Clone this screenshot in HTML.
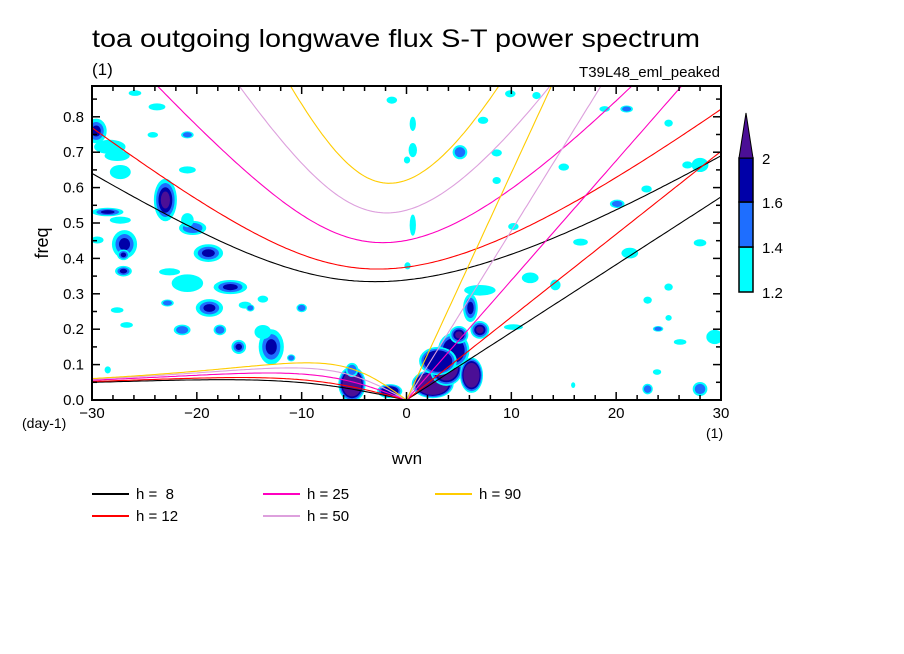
<!DOCTYPE html>
<html><head><meta charset="utf-8"><style>
body{margin:0;background:#fff}
svg{display:block;font-family:"Liberation Sans",sans-serif}
text{white-space:pre}
</style></head><body>
<svg id="chart" width="904" height="654" viewBox="0 0 904 654" xmlns="http://www.w3.org/2000/svg">
<rect width="904" height="654" fill="#fff"/>
<text x="92" y="47" font-size="25" textLength="608" lengthAdjust="spacingAndGlyphs">toa outgoing longwave flux S-T power spectrum</text>
<text x="92" y="75" font-size="17">(1)</text>
<text x="720" y="77" font-size="15" text-anchor="end">T39L48_eml_peaked</text>
<defs><clipPath id="pc"><rect x="92" y="86" width="629" height="314"/></clipPath></defs>
<g id="blobs" clip-path="url(#pc)"></g>
<g id="curves" clip-path="url(#pc)"></g>
<rect x="92" y="86" width="629" height="314" fill="none" stroke="#000" stroke-width="2"/>
<g id="ticks"></g>
<text x="0" y="0" font-size="18" transform="translate(48,243) rotate(-90)" text-anchor="middle">freq</text>
<text x="407" y="464" font-size="17" text-anchor="middle">wvn</text>
<text x="22" y="428" font-size="14">(day-1)</text>
<text x="706" y="438" font-size="14">(1)</text>
<g id="legend"></g>
<g id="cbar"></g>
</svg>
<script>
const NS='http://www.w3.org/2000/svg';
const depths=[8,12,25,50,90];
const depthColors=['#000000','#ff0000','#ff00c0','#dda0dd','#ffcc00'];
const xTicks=[-30,-20,-10,0,10,20,30];
const yTicks=[0,0.1,0.2,0.3,0.4,0.5,0.6,0.7,0.8];
const levels=[1.2,1.4,1.6,2];
const levelColors=['#00ffff','#1e6eff','#0000a8','#4b0f96'];
// blobs: [wavenumber, frequency, level index 1-4, x-radius (wn), y-radius (freq), optional ring fraction]
const blobs=[
[-29.6,.760,3,1.0,.035],[-28.3,.715,1,1.5,.02],[-27.6,.690,1,1.2,.015],[-25.9,.867,1,0.6,.008],
[-23.8,.828,1,0.8,.01],[-24.2,.749,1,0.5,.008],[-20.9,.749,2,0.6,.01],[-27.3,.644,1,1.0,.02],
[-23.0,.565,4,1.1,.06,.2],[-20.9,.650,1,0.8,.01],[-28.5,.531,3,1.5,.012],[-27.3,.508,1,1.0,.01],
[-20.4,.486,2,1.3,.02],[-20.9,.508,1,0.6,.02],[-29.5,.452,1,0.6,.01],[-26.9,.440,3,1.2,.04],
[-27.0,.410,3,0.6,.015],[-27.0,.364,3,0.8,.015],[-18.9,.415,3,1.4,.025],[-22.6,.362,1,1.0,.01],
[-20.9,.330,1,1.5,.025],[-16.8,.319,3,1.6,.02],[-18.8,.260,3,1.3,.025],[-22.8,.274,2,0.6,.01],
[-21.4,.198,2,0.8,.015],[-17.8,.198,2,0.6,.015],[-15.4,.268,1,0.6,.01],[-14.9,.260,2,0.4,.01],
[-13.7,.285,1,0.5,.01],[-12.9,.150,3,1.2,.05],[-13.7,.192,1,0.8,.02],[-16.0,.150,3,0.7,.02],
[-11.0,.119,2,0.4,.01],[-10.0,.260,2,0.5,.012],[-27.6,.254,1,0.6,.008],[-26.7,.212,1,0.6,.008],
[-28.5,.085,1,0.3,.01],
[-1.4,.847,1,0.5,.01],[0.6,.706,1,0.4,.02],[0.6,.780,1,0.3,.02],[0.05,.678,1,0.3,.01],
[0.6,.494,1,0.3,.03],[0.1,.379,1,0.3,.01],[-5.2,.045,4,1.3,.05,.1],[-5.2,.085,2,0.6,.02],[-1.6,.025,3,1.2,.02,.15],
[5.1,.700,2,0.7,.02],[7.3,.790,1,0.5,.01],[8.6,.698,1,0.5,.01],[9.9,.865,1,0.5,.01],[12.4,.860,1,0.4,.01],
[8.6,.620,1,0.4,.01],[10.2,.490,1,0.5,.01],
[2.5,.045,4,2.0,.04,.08],[3.8,.09,4,1.6,.05,.1],[6.2,.07,4,1.1,.05,.1],[4.5,.14,3,1.5,.05,.15],[3.0,.11,3,1.8,.04,.12],
[5.0,.184,4,0.9,.025,.2],[7.0,.198,4,0.9,.025,.2],[6.1,.26,3,0.7,.04],[7.0,.31,1,1.5,.015],
[15.0,.658,1,0.5,.01],[21.0,.822,2,0.6,.01],[18.9,.822,1,0.5,.008],[25.0,.782,1,0.4,.01],
[26.8,.664,1,0.5,.01],[28.0,.664,1,0.8,.02],[28.0,.444,1,0.6,.01],[22.9,.596,1,0.5,.01],
[20.1,.554,2,0.7,.012],[16.6,.446,1,0.7,.01],[21.3,.415,1,0.8,.015],[11.8,.345,1,0.8,.015],
[14.2,.325,1,0.5,.015],[25.0,.319,1,0.4,.01],[23.0,.282,1,0.4,.01],[25.0,.232,1,0.3,.008],
[24.0,.201,2,0.5,.008],[26.1,.164,1,0.6,.008],[29.4,.178,1,0.8,.02],[23.9,.079,1,0.4,.008],
[23.0,.031,2,0.5,.015],[28.0,.031,2,0.7,.02],[15.9,.042,1,0.2,.008],[10.2,.206,1,0.9,.008]
];
const X0=92,X1=721,Y0=400,Y1=86,XMIN=-30,XMAX=30,YMAX=0.887;
function xs(v){return X0+(v-XMIN)/(XMAX-XMIN)*(X1-X0);}
function ys(v){return Y0-v/YMAX*(Y0-Y1);}
function mk(tag,attrs,parent){const e=document.createElementNS(NS,tag);for(const k in attrs)e.setAttribute(k,attrs[k]);parent.appendChild(e);return e;}

// blobs
const gB=document.getElementById('blobs');
blobs.forEach(b=>{
  const ring=b[5]||0.28;
  for(let l=0;l<b[2];l++){
    const sc=1-l*ring;
    const e=mk('ellipse',{cx:xs(b[0]),cy:ys(b[1]),rx:b[3]*sc*(X1-X0)/60,ry:b[4]*sc*(Y0-Y1)/YMAX,fill:levelColors[l]},gB);
    
    
  }
});

// dispersion curves
const a=6.371e6,Om=7.292e-5,beta=2*Om/a,g=9.81,cpd=86400/(2*Math.PI);
function solve(k,c,w){for(let i=0;i<60;i++){const f=w*w*w/(c*c)-(k*k+3*beta/c)*w-beta*k;const d=3*w*w/(c*c)-(k*k+3*beta/c);w-=f/d;}return w;}
const gC=document.getElementById('curves');
depths.forEach((h,i)=>{
  const c=Math.sqrt(g*h);
  let ig=[],er=[],kv=[];
  for(let s=-30;s<=30.001;s+=0.25){
    const k=s/a;
    const w0=Math.sqrt(c*c*k*k+3*beta*c)*1.5;
    ig.push([s,solve(k,c,w0)*cpd]);
    if(s<=0){er.push([s,s===0?0:solve(k,c,-beta*k/(k*k+3*beta/c))*cpd]);}
    if(s>=0){kv.push([s,c*k*cpd]);}
  }
  [['ig',ig],['er',er],['kelvin',kv]].forEach(([nm,pts])=>{
    const p=mk('path',{d:'M'+pts.map(q=>xs(q[0]).toFixed(1)+','+ys(q[1]).toFixed(1)).join('L'),fill:'none',stroke:depthColors[i],'stroke-width':1.1},gC);
    
    
  });
});

// ticks
const gT=document.getElementById('ticks');
for(let v=-30;v<=30;v+=2){
  const big=v%10===0, L=big?8:5;
  mk('line',{x1:xs(v),x2:xs(v),y1:Y0,y2:Y0-L,stroke:'#000','stroke-width':1.5},gT);
  mk('line',{x1:xs(v),x2:xs(v),y1:Y1,y2:Y1+L,stroke:'#000','stroke-width':1.5},gT);
}
for(let j=0;j<=17;j++){
  const v=j*0.05, big=j%2===0, L=big?8:5;
  mk('line',{x1:X0,x2:X0+L,y1:ys(v),y2:ys(v),stroke:'#000','stroke-width':1.5},gT);
  mk('line',{x1:X1,x2:X1-L,y1:ys(v),y2:ys(v),stroke:'#000','stroke-width':1.5},gT);
}
xTicks.forEach(v=>{
  const t=mk('text',{x:xs(v),y:418,'font-size':15,'text-anchor':'middle'},gT);
  t.textContent=v<0?'\u2212'+(-v):String(v);
  
  
});
yTicks.forEach(v=>{
  const t=mk('text',{x:84,y:ys(v)+5,'font-size':15,'text-anchor':'end'},gT);
  t.textContent=v.toFixed(1);
  
  
});

// legend
const gL=document.getElementById('legend');
const legPos=[[92,494],[92,516],[263,494],[263,516],[435,494]];
depths.forEach((h,i)=>{
  const [x,y]=legPos[i];
  const g2=mk('g',{},gL);
  
  
  mk('line',{x1:x,x2:x+37,y1:y,y2:y,stroke:depthColors[i],'stroke-width':2},g2);
  const t=mk('text',{x:x+44,y:y+5,'font-size':15},g2);
  t.textContent='h = '+(h<10?' '+h:h);
});

// colorbar
const gK=document.getElementById('cbar');
const bx=739,bw=14,edges=[292,247,202,158];
for(let i=0;i<3;i++){
  const r=mk('rect',{x:bx,y:edges[i+1],width:bw,height:edges[i]-edges[i+1],fill:levelColors[i],stroke:'#000','stroke-width':1.5},gK);
  
  
}
const tri=mk('polygon',{points:`${bx},158 ${bx+bw},158 ${bx+bw/2},113`,fill:levelColors[3],stroke:'#000','stroke-width':1},gK);


levels.forEach((lv,i)=>{
  const yy=[292,247,202,158][i];
  const t=mk('text',{x:762,y:yy+6,'font-size':15},gK);
  t.textContent=String(lv);
  
  
});
</script>
</body></html>
